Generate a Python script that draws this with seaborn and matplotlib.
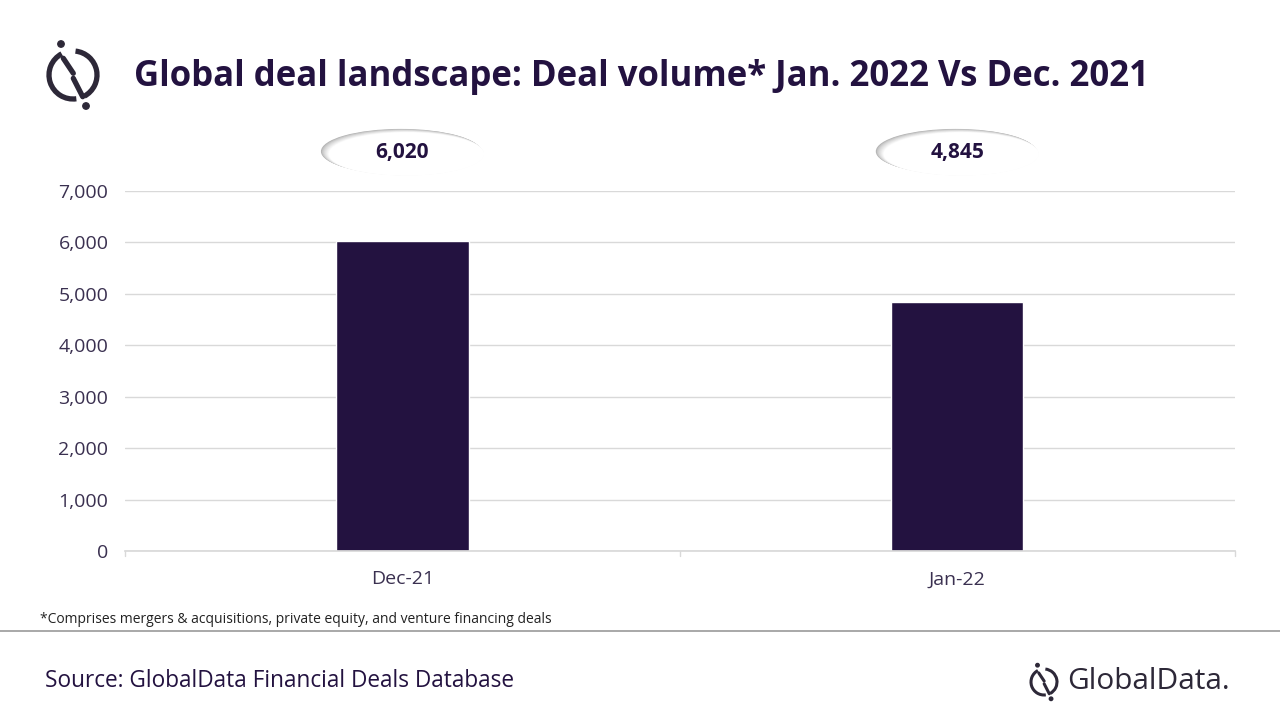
import matplotlib
matplotlib.use("Agg")
import matplotlib.pyplot as plt
import seaborn as sns
import pandas as pd
from matplotlib.patches import Ellipse, Arc, Circle
from matplotlib.lines import Line2D

months = ["Dec-21", "Jan-22"]
deal_volume = [6020, 4845]
value_labels = ["6,020", "4,845"]
y_ticks = [0, 1000, 2000, 3000, 4000, 5000, 6000, 7000]

df = pd.DataFrame({"month": months, "volume": deal_volume})

sns.set_theme(style="white")
plt.rcParams['font.family'] = ['Open Sans', 'DejaVu Sans']

navy = "#231240"
label_c = "#3a3050"
logo_c = "#2d2838"

fig = plt.figure(figsize=(12.8, 7.2), dpi=100)

# overlay in pixel units for the logos (y up)
deco = fig.add_axes([0, 0, 1, 1], zorder=-1)
deco.set_xlim(0, 1280)
deco.set_ylim(0, 720)
deco.axis("off")


def draw_logo(a, cx, cy, r, lw):
    s = r / 24.0
    a.add_patch(Arc((cx, cy), 2 * r, 2 * r, theta1=118, theta2=278, lw=lw, color=logo_c))
    a.add_patch(Arc((cx, cy), 2 * r, 2 * r, theta1=-62, theta2=84, lw=lw, color=logo_c))
    a.add_line(Line2D([cx - 9.7 * s, cx + 0.3 * s], [cy + 16.7 * s, cy + 1.7 * s],
                      lw=lw, color=logo_c))
    a.add_line(Line2D([cx + 0.3 * s, cx + 9.7 * s], [cy - 3.3 * s, cy - 21.7 * s],
                      lw=lw, color=logo_c))
    a.add_patch(Circle((cx - 12 * s, cy + 31 * s), 3.2 * s, color=logo_c))
    a.add_patch(Circle((cx + 13 * s, cy - 31 * s), 3.2 * s, color=logo_c))


draw_logo(deco, 73, 645, 24, 3.8)
draw_logo(deco, 1044, 38, 13, 2.2)

ax = fig.add_axes([0.0977, 0.2347, 0.867, 0.5])
sns.barplot(data=df, x="month", y="volume", color=navy, width=0.238,
            saturation=1, ax=ax)
ax.set_xlim(-0.5, 1.5)
ax.set_ylim(0, 7000)
ax.set_yticks(y_ticks)
ax.set_yticklabels([f"{v:,}" for v in y_ticks], color=label_c, fontsize=14)
ax.tick_params(axis="x", labelsize=14, labelcolor=label_c, pad=14, length=0)
ax.tick_params(axis="y", length=0, pad=12)
ax.yaxis.grid(True, color="#d9d9d9", linewidth=1)
ax.set_axisbelow(True)
for s in ["top", "right", "left"]:
    ax.spines[s].set_visible(False)
ax.spines["bottom"].set_color("#d9d9d9")
ax.set_xlabel("")
ax.set_ylabel("")
for xb in [-0.5, 0.5, 1.5]:
    ax.plot([xb, xb], [0, -100], color="#d9d9d9", lw=1, clip_on=False)

# value bubbles above the plot (soft shaded ellipse)
n_layers = 10
for i, lab in enumerate(value_labels):
    for k in range(n_layers):
        t = k / (n_layers - 1)
        g = 0.70 + 0.30 * t ** 0.7
        ax.add_patch(Ellipse((i - 0.003 + 0.010 * t, 7770 - 50 * t),
                             0.288 - 0.008 * t, 875 - 30 * t,
                             facecolor=(g, g, g), edgecolor="none",
                             clip_on=False, zorder=3 + k * 0.01))
    ax.text(i, 7740, lab, ha="center", va="center", fontsize=15,
            fontweight="bold", color=navy, clip_on=False, zorder=5)

fig.text(0.105, 0.893, "Global deal landscape: Deal volume* Jan. 2022 Vs Dec. 2021",
         fontsize=25, fontweight="bold", color=navy, va="center", ha="left")

fig.text(0.031, 0.140, "*Comprises mergers & acquisitions, private equity, and venture financing deals",
         fontsize=10, color="#222222", va="center")
fig.add_artist(Line2D([0, 1], [0.124, 0.124], color="#999999", lw=1.2))

fig.text(0.035, 0.054, "Source: GlobalData Financial Deals Database",
         fontsize=16.3, color=navy, va="center")

fig.text(0.834, 0.054, "GlobalData.", fontsize=21.5, color=logo_c, va="center")

fig.savefig("out.png", dpi=100)
